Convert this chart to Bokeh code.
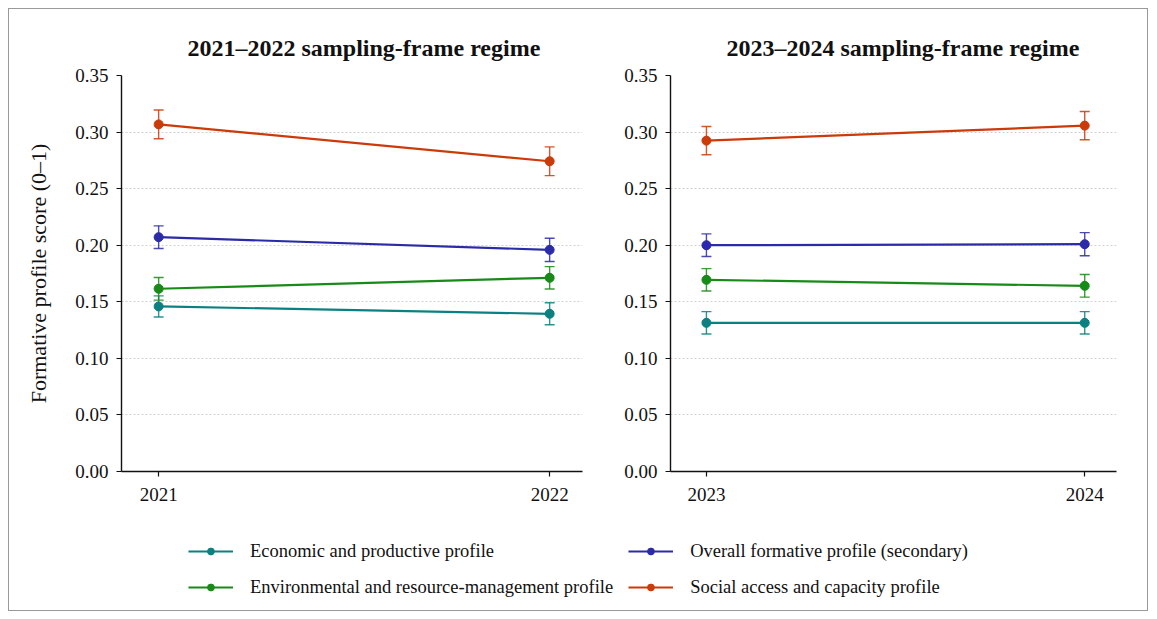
from bokeh.plotting import figure
from bokeh.models import (ColumnDataSource, Whisker, TeeHead, Legend, LegendItem,
                          FixedTicker, Range1d, Title, CustomJSTickFormatter)
from bokeh.layouts import column, row
from bokeh.embed import file_html
from bokeh.resources import INLINE

# ---- data ----
series = ["Economic and productive profile",
          "Environmental and resource-management profile",
          "Overall formative profile (secondary)",
          "Social access and capacity profile"]
colors = ["#0b8080", "#178a17", "#2b2ba8", "#cc3a0a"]

years_a = [2021, 2022]
years_b = [2023, 2024]

vals_a = {
    "Economic and productive profile": [0.1459, 0.1394],
    "Environmental and resource-management profile": [0.1615, 0.1712],
    "Overall formative profile (secondary)": [0.2071, 0.1959],
    "Social access and capacity profile": [0.3068, 0.2742],
}
err_a = {
    "Economic and productive profile": [0.0093, 0.0097],
    "Environmental and resource-management profile": [0.0100, 0.0099],
    "Overall formative profile (secondary)": [0.0100, 0.0103],
    "Social access and capacity profile": [0.0127, 0.0127],
}
vals_b = {
    "Economic and productive profile": [0.1314, 0.1314],
    "Environmental and resource-management profile": [0.1694, 0.1641],
    "Overall formative profile (secondary)": [0.2000, 0.2009],
    "Social access and capacity profile": [0.2924, 0.3057],
}
err_b = {
    "Economic and productive profile": [0.0099, 0.0099],
    "Environmental and resource-management profile": [0.0099, 0.0100],
    "Overall formative profile (secondary)": [0.0100, 0.0102],
    "Social access and capacity profile": [0.0125, 0.0125],
}
y_ticks = [0.00, 0.05, 0.10, 0.15, 0.20, 0.25, 0.30, 0.35]
titles = ["2021\u20132022 sampling-frame regime", "2023\u20132024 sampling-frame regime"]
y_label = "Formative profile score (0\u20131)"

FONT = "Liberation Serif"


def make_panel(years, vals, errs, title, title_offset, width, mb_left, mb_right, ylab):
    p = figure(width=width, height=511, output_backend="svg", toolbar_location=None,
               x_range=Range1d(years[0] - 0.095, years[1] + 0.084),
               y_range=Range1d(0, 0.35),
               min_border_left=mb_left, min_border_right=mb_right,
               min_border_top=66, min_border_bottom=49)
    p.outline_line_color = None
    p.background_fill_color = "white"
    p.border_fill_color = "white"
    t = Title(text=title, align="left", text_font=FONT, text_font_size="24px",
              text_font_style="bold", text_color="#111111", offset=title_offset, standoff=30)
    p.add_layout(t, "above")
    for s, c in zip(series, colors):
        y = vals[s]
        e = errs[s]
        src = ColumnDataSource(dict(x=years, y=y,
                                    lo=[a - b for a, b in zip(y, e)],
                                    hi=[a + b for a, b in zip(y, e)]))
        p.line("x", "y", source=src, line_color=c, line_width=2.2)
        w = Whisker(source=src, base="x", lower="lo", upper="hi",
                    line_color=c, line_width=1.4, line_alpha=0.85,
                    lower_head=TeeHead(size=10, line_color=c, line_width=1.4, line_alpha=0.85),
                    upper_head=TeeHead(size=10, line_color=c, line_width=1.4, line_alpha=0.85))
        p.add_layout(w)
        p.scatter("x", "y", source=src, size=9, fill_color=c, line_color=c)
    p.xaxis.ticker = FixedTicker(ticks=years)
    p.yaxis.ticker = FixedTicker(ticks=y_ticks)
    p.yaxis.formatter = CustomJSTickFormatter(code="return tick.toFixed(2);")
    for ax in (p.xaxis, p.yaxis):
        ax.axis_line_color = "#111111"
        ax.axis_line_width = 1.4
        ax.major_tick_line_color = "#111111"
        ax.major_tick_line_width = 1.2
        ax.major_tick_out = 5
        ax.major_tick_in = 0
        ax.minor_tick_line_color = None
        ax.major_label_text_font = FONT
        ax.major_label_text_font_size = "19px"
        ax.major_label_text_color = "#111111"
    p.xaxis.major_label_standoff = 11
    p.yaxis.major_label_standoff = 8
    if ylab:
        p.yaxis.axis_label = ylab
        p.yaxis.axis_label_text_font = FONT
        p.yaxis.axis_label_text_font_size = "22px"
        p.yaxis.axis_label_text_font_style = "normal"
        p.yaxis.axis_label_text_color = "#111111"
        p.yaxis.axis_label_standoff = 21
    p.xgrid.grid_line_color = None
    p.ygrid.grid_line_color = "#cccccc"
    p.ygrid.grid_line_dash = "2 2"
    p.ygrid.grid_line_width = 0.9
    return p


pa = make_panel(years_a, vals_a, err_a, titles[0], 66, 606, 112, 33, y_label)
pb = make_panel(years_b, vals_b, err_b, titles[1], 56, 532, 55, 31, None)

# legend figure
pl = figure(width=1138, height=90, output_backend="svg", toolbar_location=None,
            x_range=Range1d(0, 1), y_range=Range1d(0, 1),
            min_border=0, min_border_top=8)
pl.outline_line_color = None
pl.axis.visible = False
pl.grid.visible = False
items = []
for s, c in zip(series, colors):
    r1 = pl.line([-10, -9], [-10, -9], line_color=c, line_width=2.2)
    r2 = pl.scatter([-10], [-10], size=9, fill_color=c, line_color=c)
    items.append(LegendItem(label=s, renderers=[r1, r2]))
leg = Legend(items=items, ncols=2, location="center",
             border_line_color=None, background_fill_alpha=0,
             label_text_font=FONT, label_text_font_size="18.5px", label_text_color="#111111",
             glyph_width=45, glyph_height=17, label_height=17, label_standoff=17,
             spacing=15, padding=0, margin=0)
pl.add_layout(leg, "center")

layout = column(row(pa, pb), pl,
                styles={"border": "1px solid #999999", "margin": "8px"})

open("out.html", "w").write(file_html(layout, INLINE))
